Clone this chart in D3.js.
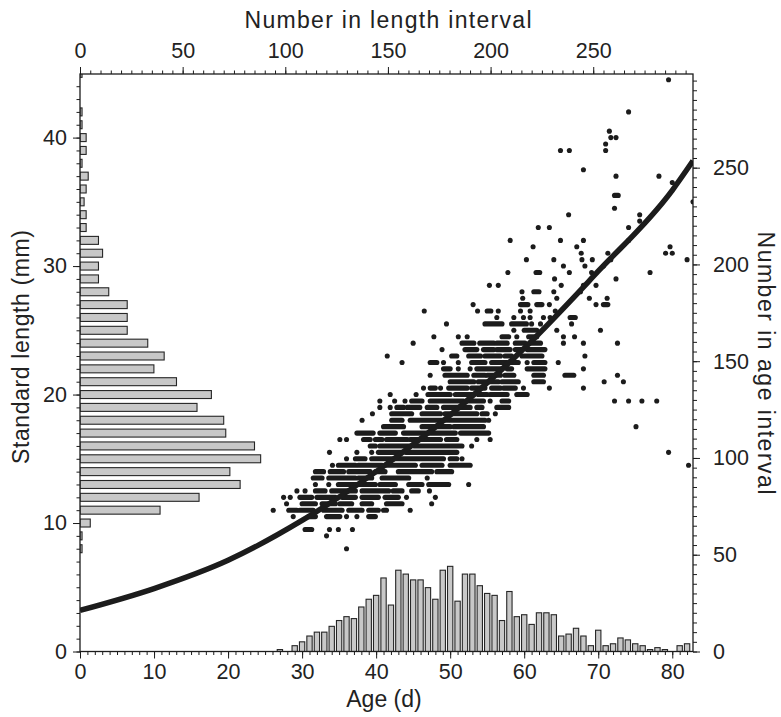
<!DOCTYPE html>
<html><head><meta charset="utf-8">
<script src="https://cdn.jsdelivr.net/npm/d3@7"></script>
<style>
body{margin:0;background:#fff;}
svg{display:block;font-family:"Liberation Sans",Arial,Helvetica,sans-serif;}
</style></head><body>
<svg id="chart" width="781" height="717"></svg>
<script>
// ---------- DATA ----------
const ageDays   = [27,28,29,30,31,32,33,34,35,36,37,38,39,40,41,42,43,44,45,46,47,48,49,50,51,52,53,54,55,56,57,58,59,60,61,62,63,64,65,66,67,68,69,70,71,72,73,74,75,76,77,78,79,80,81,82];
const ageCounts = [1,0,3,5,8,10,10,13,16,18,17,23,27,29,38,24,42,40,37,37,33,27,42,44,26,40,40,34,30,29,16,31,18,19,14,20,20,19,8,9,12,8,3,11,3,4,7,6,4,3,1,2,1,0,3,4];

const lengthMM     = [8,9,10,11,12,13,14,15,16,17,18,19,20,21,22,23,24,25,26,27,28,29,30,31,32,33,34,35,36,37,38,39,40,41,42,45];
const lengthCounts = [1,1,5,39,58,78,73,88,85,71,70,57,64,47,36,41,33,23,23,23,14,9,9,11,9,3,3,2,3,4,1,3,3,1,1,1];

const curveAges    = [0,10,20,30,40,50,60,70,80,82.8];
const curveLengths = [3.2,4.9,7.1,10.2,14.0,18.4,23.6,29.6,35.9,38.2];

const bottomTicks = [0,10,20,30,40,50,60,70,80];
const leftTicks   = [0,10,20,30,40];
const topTicks    = [0,50,100,150,200,250];
const rightTicks  = [0,50,100,150,200,250];

// scatter: [length mm, first age, last age] of each visible run of dots
const scatterRuns = [
[44.5,79.5,79.5],[42.0,74.1,74.1],[40.5,71.5,71.5],[40.0,71.7,71.7],[40.0,72.4,72.4],[39.5,71.0,71.0],
[39.0,64.9,64.9],[39.0,66.1,66.1],[39.0,71.0,71.0],[37.5,68.0,68.0],[37.0,72.4,72.4],[37.0,78.2,78.2],
[36.5,80.0,80.0],[35.5,72.2,72.7],[35.0,82.8,82.8],[34.5,72.2,72.2],[34.0,66.0,66.0],[34.0,75.6,75.6],
[33.5,75.6,75.6],[33.0,61.9,61.9],[33.0,63.4,63.4],[33.0,74.1,74.1],
[32.0,58.1,58.1],[32.0,64.9,64.9],[32.0,68.0,68.0],[32.0,74.1,74.1],
[31.5,61.2,61.2],[31.5,67.1,67.1],[31.5,79.7,79.7],
[31.0,67.7,67.7],[31.0,71.3,71.3],[31.0,79.1,79.1],[31.0,80.0,80.0],
[30.5,60.3,60.3],[30.5,64.0,64.0],[30.5,67.8,67.8],[30.5,69.2,69.2],[30.5,71.7,71.7],[30.5,82.0,82.0],
[30.0,65.3,65.3],[30.0,68.2,68.2],[30.0,70.7,70.7],
[29.5,57.8,57.8],[29.5,61.6,62.1],[29.5,66.1,66.1],[29.5,69.1,69.1],[29.5,77.0,77.0],
[29.0,64.1,64.1],[29.0,72.4,72.4],
[28.5,55.3,55.3],[28.5,56.5,56.5],[28.5,65.0,65.0],[28.5,68.0,68.0],[28.5,69.7,69.7],
[28.0,59.7,59.7],[28.0,61.3,62.0],[28.0,64.0,64.0],[28.0,67.6,67.6],
[27.5,59.8,59.8],[27.5,64.4,64.4],[27.5,68.8,68.8],[27.5,71.2,71.2],
[27.0,53.1,53.1],[27.0,59.5,60.5],[27.0,61.7,62.4],[27.0,63.4,63.4],[27.0,69.7,69.7],[27.0,70.7,71.3],
[26.5,46.5,46.5],[26.5,53.7,53.7],[26.5,55.0,55.5],[26.5,56.5,56.5],[26.5,59.5,59.5],[26.5,60.8,60.8],[26.5,64.2,64.2],
[26.0,56.3,56.3],[26.0,58.6,58.6],[26.0,59.9,59.9],[26.0,60.8,60.8],[26.0,62.6,62.6],[26.0,63.5,63.5],[26.0,66.2,66.9],
[25.5,49.5,49.5],[25.5,54.7,57.0],[25.5,58.3,60.3],[25.5,61.0,61.0],[25.5,62.2,62.2],[25.5,66.4,66.4],
[25.0,58.6,58.6],[25.0,60.0,61.7],[25.0,64.4,64.4],[25.0,70.3,70.3],
[24.5,47.8,47.8],[24.5,51.1,51.1],[24.5,52.3,52.3],[24.5,57.0,57.9],[24.5,59.0,59.0],[24.5,60.6,61.7],[24.5,65.3,65.3],[24.5,66.8,66.8],
[24.0,45.0,45.0],[24.0,51.6,53.2],[24.0,54.0,55.9],[24.0,56.3,57.7],[24.0,58.8,60.1],[24.0,60.8,62.2],[24.0,65.3,65.3],[24.0,68.0,68.0],[24.0,72.6,72.6],
[23.5,48.9,48.9],[23.5,52.0,53.6],[23.5,54.5,55.9],[23.5,56.3,58.1],[23.5,58.8,59.7],[23.5,60.4,62.8],
[23.0,41.5,41.5],[23.0,50.2,50.9],[23.0,52.5,54.1],[23.0,54.7,56.8],[23.0,57.4,58.3],[23.0,59.7,62.4],[23.0,68.2,68.2],
[22.5,43.5,43.5],[22.5,47.3,48.2],[22.5,49.1,49.1],[22.5,51.1,51.1],[22.5,52.9,54.7],[22.5,55.6,57.7],[22.5,58.1,59.2],[22.5,60.4,60.4],[22.5,61.3,62.8],[22.5,64.6,64.6],
[22.0,49.1,50.0],[22.0,51.1,51.1],[22.0,52.7,52.7],[22.0,53.6,57.0],[22.0,57.7,58.3],[22.0,60.4,62.8],[22.0,68.0,68.0],
[21.5,47.3,47.3],[21.5,49.3,52.3],[21.5,53.2,54.7],[21.5,55.0,56.8],[21.5,57.4,58.6],[21.5,61.3,62.6],[21.5,65.5,66.7],[21.5,72.6,72.6],
[21.0,50.0,53.2],[21.0,53.8,56.5],[21.0,57.0,59.2],[21.0,61.3,62.6],[21.0,70.8,70.8],[21.0,73.4,73.4],
[20.5,46.4,46.4],[20.5,47.3,48.0],[20.5,48.7,48.7],[20.5,49.8,52.3],[20.5,52.9,54.7],[20.5,55.6,56.8],[20.5,57.2,58.8],[20.5,59.9,59.9],[20.5,63.4,63.4],[20.5,68.0,68.0],
[20.0,41.9,41.9],[20.0,45.4,45.4],[20.0,47.0,50.0],[20.0,50.7,53.2],[20.0,53.8,55.0],[20.0,55.4,57.7],[20.0,59.0,60.4],
[19.5,40.5,40.5],[19.5,42.5,42.5],[19.5,43.9,43.9],[19.5,44.8,46.2],[19.5,47.3,51.8],[19.5,52.3,54.5],[19.5,55.4,55.4],[19.5,57.0,57.9],[19.5,72.2,72.2],[19.5,74.1,74.1],[19.5,75.9,75.9],[19.5,77.9,77.9],
[19.0,40.5,40.5],[19.0,41.9,41.9],[19.0,42.8,43.7],[19.0,44.2,45.9],[19.0,46.9,48.2],[19.0,49.1,52.7],[19.0,53.6,54.3],[19.0,56.3,57.9],
[18.5,39.5,39.5],[18.5,42.1,44.8],[18.5,46.2,48.7],[18.5,49.3,53.6],[18.5,54.3,55.0],[18.5,56.1,56.1],
[18.0,38.1,38.1],[18.0,42.1,43.5],[18.0,44.6,49.8],[18.0,50.2,54.7],[18.0,55.2,55.2],
[17.5,41.0,43.7],[17.5,46.2,50.0],[17.5,50.5,54.5],[17.5,75.1,75.1],
[17.0,37.4,39.6],[17.0,40.5,42.6],[17.0,43.7,50.7],[17.0,51.4,55.2],
[16.5,35.1,35.1],[16.5,36.0,36.0],[16.5,38.3,39.2],[16.5,39.9,40.8],[16.5,41.4,44.2],[16.5,44.6,48.7],[16.5,49.5,50.9],[16.5,53.6,53.6],[16.5,55.4,55.4],
[16.0,39.2,39.9],[16.0,40.5,44.6],[16.0,45.2,51.6],[16.0,52.9,52.9],
[15.5,33.7,33.7],[15.5,37.4,37.4],[15.5,39.4,39.4],[15.5,40.3,43.5],[15.5,44.0,50.9],[15.5,79.5,79.5],
[15.0,36.0,36.0],[15.0,37.2,38.5],[15.0,39.4,49.1],[15.0,50.0,50.9],[15.0,51.6,51.6],
[14.5,34.1,34.1],[14.5,34.9,37.2],[14.5,37.6,40.8],[14.5,41.4,45.3],[14.5,46.2,48.9],[14.5,50.0,52.7],[14.5,82.2,82.2],
[14.0,31.8,32.9],[14.0,33.8,35.6],[14.0,36.3,39.2],[14.0,39.9,41.2],[14.0,43.0,47.5],[14.0,48.2,50.2],
[13.5,31.5,32.7],[13.5,33.6,37.2],[13.5,37.6,39.4],[13.5,40.8,44.4],[13.5,46.9,46.9],
[13.0,31.8,31.8],[13.0,33.6,33.6],[13.0,34.9,39.9],[13.0,40.5,42.6],[13.0,44.4,46.2],[13.0,47.1,49.8],[13.0,52.5,52.5],
[12.5,29.3,29.3],[12.5,30.4,30.4],[12.5,31.8,33.1],[12.5,34.0,37.2],[12.5,38.1,41.7],[12.5,42.3,43.5],[12.5,44.8,45.7],[12.5,47.2,47.2],
[12.0,27.5,27.5],[12.0,28.4,28.4],[12.0,29.7,31.3],[12.0,32.0,34.5],[12.0,35.4,37.2],[12.0,38.1,40.3],[12.0,41.2,43.0],[12.0,44.1,44.1],[12.0,48.0,48.0],
[11.5,27.9,27.9],[11.5,30.0,31.8],[11.5,32.7,34.5],[11.5,35.1,36.7],[11.5,38.1,39.4],[11.5,41.4,43.5],[11.5,47.5,47.5],
[11.0,26.1,26.1],[11.0,28.2,29.3],[11.0,29.7,31.5],[11.0,32.9,35.4],[11.0,36.3,38.1],[11.0,39.0,40.3],[11.0,41.0,41.4],[11.0,44.6,44.6],
[10.5,28.8,28.8],[10.5,30.9,31.8],[10.5,33.3,35.1],[10.5,36.0,36.0],[10.5,37.4,37.4],[10.5,39.0,39.9],
[9.5,30.4,31.3],[9.5,33.7,33.7],[9.5,34.9,34.9],[9.5,36.8,36.8],
[9.0,33.3,33.3],[8.0,36.0,36.0]
];

// ---------- LAYOUT ----------
const L = 80, R = 693, T = 74, B = 651.5;
const svg = d3.select("#chart");
const x = d3.scaleLinear().domain([0, 82.8]).range([L, R]);
const y = d3.scaleLinear().domain([0, 44.95]).range([B, T]);
const xTop = d3.scaleLinear().domain([0, 298.6]).range([L, R]);
const yRight = d3.scaleLinear().domain([0, 298.4]).range([B, T]);
const ink = "#1c1c1c";
const FONT = '"Liberation Sans",Arial,Helvetica,sans-serif';

svg.append("defs").append("clipPath").attr("id","plot")
  .append("rect").attr("x",L).attr("y",T).attr("width",R-L).attr("height",B-T);

const plot = svg.append("g").attr("clip-path","url(#plot)");

// length histogram (horizontal bars from left axis)
const bh = (y(0) - y(1)) * 0.62;
plot.selectAll("rect.lbar").data(lengthMM).join("rect")
  .attr("class","lbar")
  .attr("x", xTop(0))
  .attr("y", (d) => y(d) - bh/2)
  .attr("width", (d,i) => xTop(lengthCounts[i]) - xTop(0))
  .attr("height", bh)
  .attr("fill","#c8c8c8").attr("stroke","#262626").attr("stroke-width",1.1);

// age histogram (vertical bars from bottom axis)
const bw = (x(1) - x(0)) * 0.72;
plot.selectAll("rect.abar").data(ageDays).join("rect")
  .attr("class","abar")
  .attr("x", (d) => x(d) - bw/2)
  .attr("y", (d,i) => yRight(ageCounts[i]))
  .attr("width", bw)
  .attr("height", (d,i) => yRight(0) - yRight(ageCounts[i]))
  .attr("fill","#c8c8c8").attr("stroke","#262626").attr("stroke-width",1.1);

// scatter dots
const dotR = 2.55;
const runs = scatterRuns.filter(d => d[2] > d[1]);
const singles = scatterRuns.filter(d => d[2] === d[1]);
plot.selectAll("line.run").data(runs).join("line")
  .attr("class","run")
  .attr("x1", d => x(d[1])).attr("x2", d => x(d[2]))
  .attr("y1", d => y(d[0])).attr("y2", d => y(d[0]))
  .attr("stroke", ink).attr("stroke-width", dotR*2).attr("stroke-linecap","round");
plot.selectAll("circle.dot").data(singles).join("circle")
  .attr("class","dot")
  .attr("cx", d => x(d[1])).attr("cy", d => y(d[0])).attr("r", dotR)
  .attr("fill", ink);

// growth curve
const line = d3.line().x((d,i) => x(curveAges[i])).y((d,i) => y(curveLengths[i])).curve(d3.curveMonotoneX);
plot.append("path").datum(curveAges).attr("d", line)
  .attr("fill","none").attr("stroke", ink).attr("stroke-width", 5.5);

// ---------- AXES ----------
function styleAxis(g){
  g.select(".domain").remove();
  g.selectAll(".tick line").attr("stroke", ink).attr("stroke-width",1);
  g.selectAll(".tick text").attr("fill","#222").attr("font-size","21.5px").attr("font-family",FONT);
}
// bottom
svg.append("g").attr("transform",`translate(0,${B})`)
  .call(d3.axisBottom(x).tickValues(d3.range(0,83,1)).tickSize(3.5).tickFormat("")).call(styleAxis);
svg.append("g").attr("transform",`translate(0,${B})`)
  .call(d3.axisBottom(x).tickValues(bottomTicks).tickSize(7).tickPadding(5).tickFormat(d3.format("d"))).call(styleAxis);
// left
svg.append("g").attr("transform",`translate(${L},0)`)
  .call(d3.axisLeft(y).tickValues(d3.range(0,45,1)).tickSize(3.5).tickFormat("")).call(styleAxis);
svg.append("g").attr("transform",`translate(${L},0)`)
  .call(d3.axisLeft(y).tickValues(leftTicks).tickSize(7).tickPadding(6).tickFormat(d3.format("d"))).call(styleAxis);
// top
svg.append("g").attr("transform",`translate(0,${T})`)
  .call(d3.axisTop(xTop).tickValues(d3.range(0,300,5)).tickSize(3.5).tickFormat("")).call(styleAxis);
svg.append("g").attr("transform",`translate(0,${T})`)
  .call(d3.axisTop(xTop).tickValues(topTicks).tickSize(7).tickPadding(9).tickFormat(d3.format("d"))).call(styleAxis);
// right
svg.append("g").attr("transform",`translate(${R},0)`)
  .call(d3.axisRight(yRight).tickValues(d3.range(0,300,5)).tickSize(4).tickFormat("")).call(styleAxis);
svg.append("g").attr("transform",`translate(${R},0)`)
  .call(d3.axisRight(yRight).tickValues(rightTicks).tickSize(7).tickPadding(13).tickFormat(d3.format("d"))).call(styleAxis);

// frame
svg.append("rect").attr("x",L).attr("y",T).attr("width",R-L).attr("height",B-T)
  .attr("fill","none").attr("stroke",ink).attr("stroke-width",1.3);

// ---------- TITLES ----------
svg.append("text").text("Number in length interval")
  .attr("x", 388).attr("y", 28).attr("text-anchor","middle")
  .attr("textLength", 287).attr("font-size","23px").attr("fill","#222");
svg.append("text").text("Age (d)")
  .attr("x", 384).attr("y", 707).attr("text-anchor","middle")
  .attr("font-size","23px").attr("fill","#222");
svg.append("text").text("Standard length (mm)")
  .attr("transform","translate(29,347) rotate(-90)").attr("text-anchor","middle")
  .attr("textLength", 234).attr("font-size","23px").attr("fill","#222");
svg.append("text").text("Number in age interval")
  .attr("transform","translate(758,363) rotate(90)").attr("text-anchor","middle")
  .attr("textLength", 263).attr("font-size","23px").attr("fill","#222");
</script>
</body></html>
